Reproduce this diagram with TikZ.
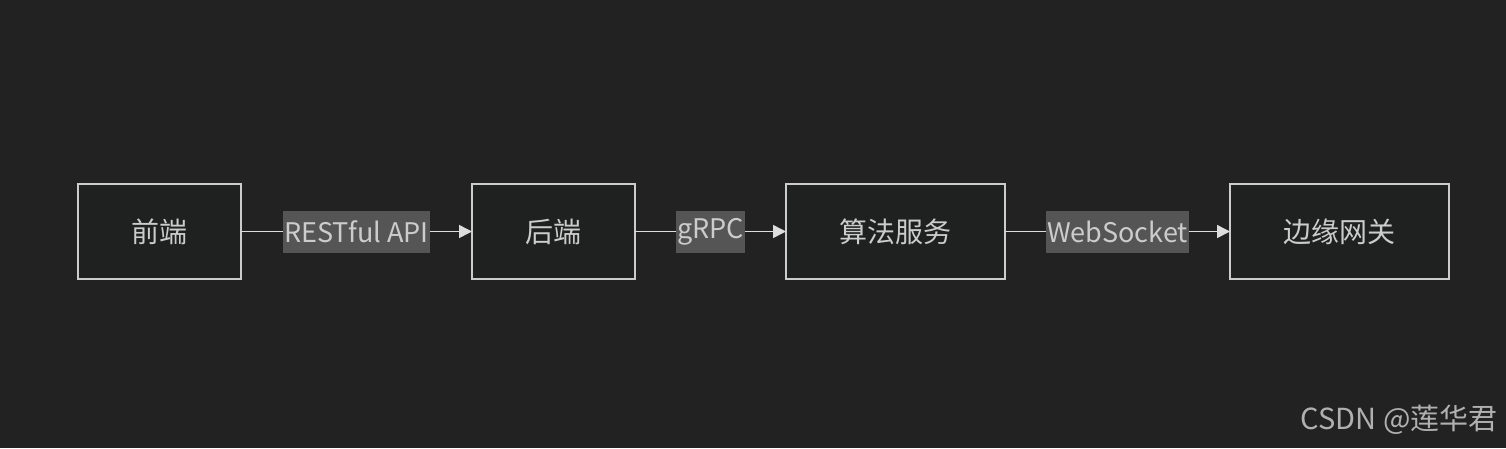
\documentclass[tikz,border=0pt]{standalone}
\usepackage{fontspec}
\setmainfont{Noto Sans CJK SC}
\usepackage{tikz}
\usetikzlibrary{arrows.meta, positioning}
\definecolor{canvas}{RGB}{34, 34, 34}
\definecolor{boxfill}{RGB}{31, 32, 32}
\definecolor{boxborder}{RGB}{204, 204, 204}
\definecolor{labelbg}{RGB}{85, 85, 85}
\definecolor{textgrey}{RGB}{204, 204, 204}
\definecolor{linkgrey}{RGB}{221, 221, 221}
\definecolor{markgrey}{RGB}{176, 176, 176}
\tikzset{
  font=\fontsize{28pt}{33pt}\selectfont,
  stageblock/.style={
    rectangle, draw=boxborder, fill=boxfill, line width=1.5pt,
    minimum height=95pt, inner sep=0pt, outer sep=0pt,
    text=textgrey, align=center
  },
  linklabel/.style={
    rectangle, fill=labelbg, text=textgrey, inner sep=1pt,
    minimum height=42pt, font=\fontsize{27pt}{32pt}\selectfont
  },
  flowline/.style={
    draw=linkgrey, line width=1.5pt, -{Triangle[length=13pt, width=13pt]}
  }
}
\begin{document}
\begin{tikzpicture}[x=1pt, y=-1pt]

  % Canvas
  \fill[canvas] (0,0) rectangle (1506,448);
  \useasboundingbox (0,0) rectangle (1506,448);

  % Stages
  \node[stageblock, minimum width=163pt] (front) at (159.5,231.5) {前端};
  \node[stageblock, right=231pt of front, minimum width=163pt] (back) {后端};
  \node[stageblock, right=151pt of back, minimum width=219pt] (algo) {算法服务};
  \node[stageblock, right=225pt of algo, minimum width=219pt] (edge) {边缘网关};

  % Links
  \draw[flowline] (front) -- node[linklabel] {RESTful API} (back);
  \draw[flowline] (back) -- node[linklabel] {gRPC} (algo);
  \draw[flowline] (algo) -- node[linklabel] {WebSocket} (edge);

  % Watermark
  \node[anchor=east, text=markgrey, font=\fontsize{29pt}{34pt}\selectfont] (mark) at (1501,420) {CSDN @莲华君};

\end{tikzpicture}
\end{document}
